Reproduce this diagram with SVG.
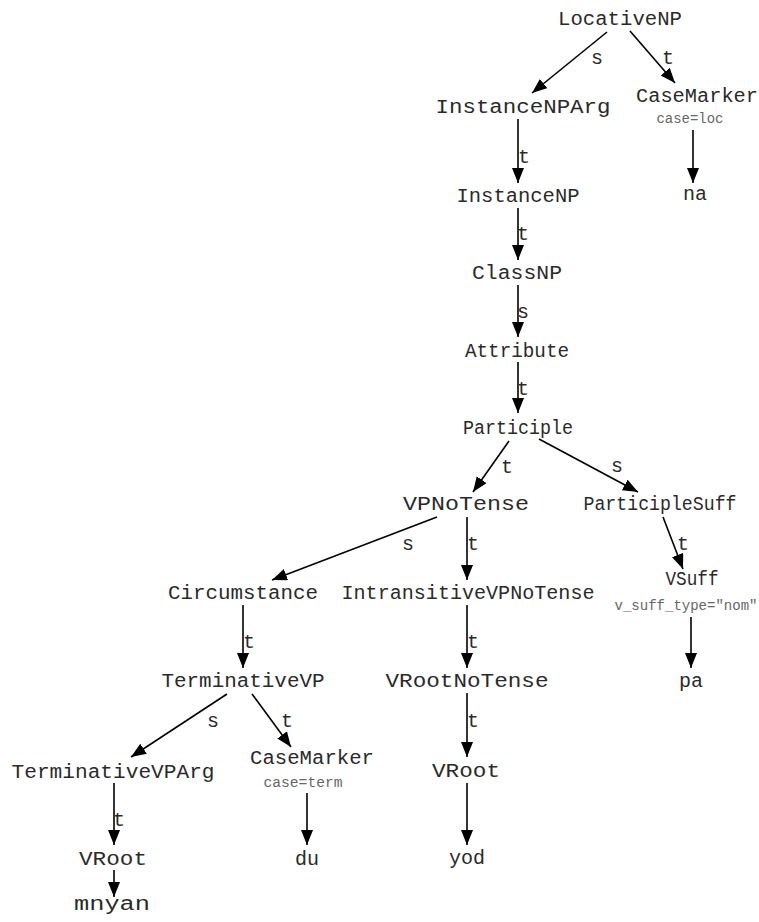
<svg xmlns="http://www.w3.org/2000/svg" width="759" height="922" viewBox="0 0 759 922">
<style>
text{font-family:"Liberation Mono","Courier New",monospace;fill:#2a2a2a;text-anchor:middle}
.n{font-size:20px}
.a{font-size:14px;fill:#666}
.l{font-size:20px}
.e line{stroke:#000;stroke-width:1.6;marker-end:url(#ah)}
</style>
<defs>
<marker id="ah" markerUnits="userSpaceOnUse" markerWidth="16" markerHeight="13" refX="15" refY="6" orient="auto">
<path d="M0,0 L15,6 L0,12 z" fill="#000"/>
</marker>
</defs>
<rect width="759" height="922" fill="#fff"/>
<g id="edges" class="e">
<line x1="607" y1="32" x2="532" y2="93"/>
<line x1="630" y1="31" x2="675" y2="83"/>
<line x1="518" y1="119" x2="518" y2="183"/>
<line x1="693" y1="130" x2="693" y2="183"/>
<line x1="518" y1="208" x2="518" y2="260"/>
<line x1="518" y1="285" x2="518" y2="337"/>
<line x1="518" y1="362" x2="518" y2="413"/>
<line x1="509" y1="441" x2="473" y2="492"/>
<line x1="539" y1="439" x2="638" y2="492"/>
<line x1="663" y1="517" x2="683" y2="569"/>
<line x1="691" y1="617" x2="691" y2="668"/>
<line x1="437" y1="517" x2="272" y2="580"/>
<line x1="467" y1="517" x2="467" y2="580"/>
<line x1="243" y1="605" x2="243" y2="668"/>
<line x1="467" y1="605" x2="467" y2="668"/>
<line x1="227" y1="694" x2="131" y2="757"/>
<line x1="252" y1="694" x2="291" y2="747"/>
<line x1="467" y1="693" x2="467" y2="757"/>
<line x1="114" y1="783" x2="114" y2="845"/>
<line x1="307" y1="793" x2="307" y2="845"/>
<line x1="467" y1="783" x2="467" y2="845"/>
<line x1="114" y1="870" x2="114" y2="897"/>
<text class="l" x="597" y="64">s</text>
<text class="l" x="668" y="64">t</text>
<text class="l" x="524" y="163">t</text>
<text class="l" x="523" y="240">t</text>
<text class="l" x="523" y="318">s</text>
<text class="l" x="523" y="395">t</text>
<text class="l" x="507" y="473">t</text>
<text class="l" x="617" y="472">s</text>
<text class="l" x="683" y="550">t</text>
<text class="l" x="408" y="550">s</text>
<text class="l" x="473" y="550">t</text>
<text class="l" x="249" y="648">t</text>
<text class="l" x="473" y="648">t</text>
<text class="l" x="213" y="727">s</text>
<text class="l" x="287" y="727">t</text>
<text class="l" x="473" y="727">t</text>
<text class="l" x="119" y="826">t</text>
</g>
<g id="n_LocativeNP"><text class="n" x="620" y="25" textLength="124" lengthAdjust="spacingAndGlyphs">LocativeNP</text></g>
<g id="n_InstanceNPArg"><text class="n" x="523" y="113" textLength="175" lengthAdjust="spacingAndGlyphs">InstanceNPArg</text></g>
<g id="n_CaseMarker1"><text class="n" x="697" y="102" textLength="122" lengthAdjust="spacingAndGlyphs">CaseMarker</text><text class="a" x="690" y="123" textLength="67" lengthAdjust="spacingAndGlyphs">case=loc</text></g>
<g id="n_na"><text class="n" x="695" y="200">na</text></g>
<g id="n_InstanceNP"><text class="n" x="518" y="202" textLength="123" lengthAdjust="spacingAndGlyphs">InstanceNP</text></g>
<g id="n_ClassNP"><text class="n" x="517" y="279" textLength="90" lengthAdjust="spacingAndGlyphs">ClassNP</text></g>
<g id="n_Attribute"><text class="n" x="517" y="357" textLength="104" lengthAdjust="spacingAndGlyphs">Attribute</text></g>
<g id="n_Participle"><text class="n" x="518" y="434" textLength="110" lengthAdjust="spacingAndGlyphs">Participle</text></g>
<g id="n_VPNoTense"><text class="n" x="466" y="510" textLength="126" lengthAdjust="spacingAndGlyphs">VPNoTense</text></g>
<g id="n_ParticipleSuff"><text class="n" x="660" y="510" textLength="153" lengthAdjust="spacingAndGlyphs">ParticipleSuff</text></g>
<g id="n_VSuff"><text class="n" x="692" y="585" textLength="53" lengthAdjust="spacingAndGlyphs">VSuff</text><text class="a" x="686" y="610" textLength="143" lengthAdjust="spacingAndGlyphs">v_suff_type="nom"</text></g>
<g id="n_pa"><text class="n" x="691" y="687">pa</text></g>
<g id="n_Circumstance"><text class="n" x="243" y="599" textLength="150" lengthAdjust="spacingAndGlyphs">Circumstance</text></g>
<g id="n_IntransitiveVPNoTense"><text class="n" x="468" y="599" textLength="253" lengthAdjust="spacingAndGlyphs">IntransitiveVPNoTense</text></g>
<g id="n_TerminativeVP"><text class="n" x="243" y="687" textLength="163" lengthAdjust="spacingAndGlyphs">TerminativeVP</text></g>
<g id="n_VRootNoTense"><text class="n" x="467" y="687" textLength="163" lengthAdjust="spacingAndGlyphs">VRootNoTense</text></g>
<g id="n_TerminativeVPArg"><text class="n" x="113" y="778" textLength="203" lengthAdjust="spacingAndGlyphs">TerminativeVPArg</text></g>
<g id="n_CaseMarker2"><text class="n" x="312" y="764" textLength="124" lengthAdjust="spacingAndGlyphs">CaseMarker</text><text class="a" x="303" y="787" textLength="79" lengthAdjust="spacingAndGlyphs">case=term</text></g>
<g id="n_VRoot2"><text class="n" x="466" y="777" textLength="68" lengthAdjust="spacingAndGlyphs">VRoot</text></g>
<g id="n_VRoot1"><text class="n" x="113" y="865" textLength="68" lengthAdjust="spacingAndGlyphs">VRoot</text></g>
<g id="n_du"><text class="n" x="307" y="865">du</text></g>
<g id="n_yod"><text class="n" x="467" y="864">yod</text></g>
<g id="n_mnyan"><text class="n" x="112" y="910" textLength="76" lengthAdjust="spacingAndGlyphs">mnyan</text></g>
</svg>
